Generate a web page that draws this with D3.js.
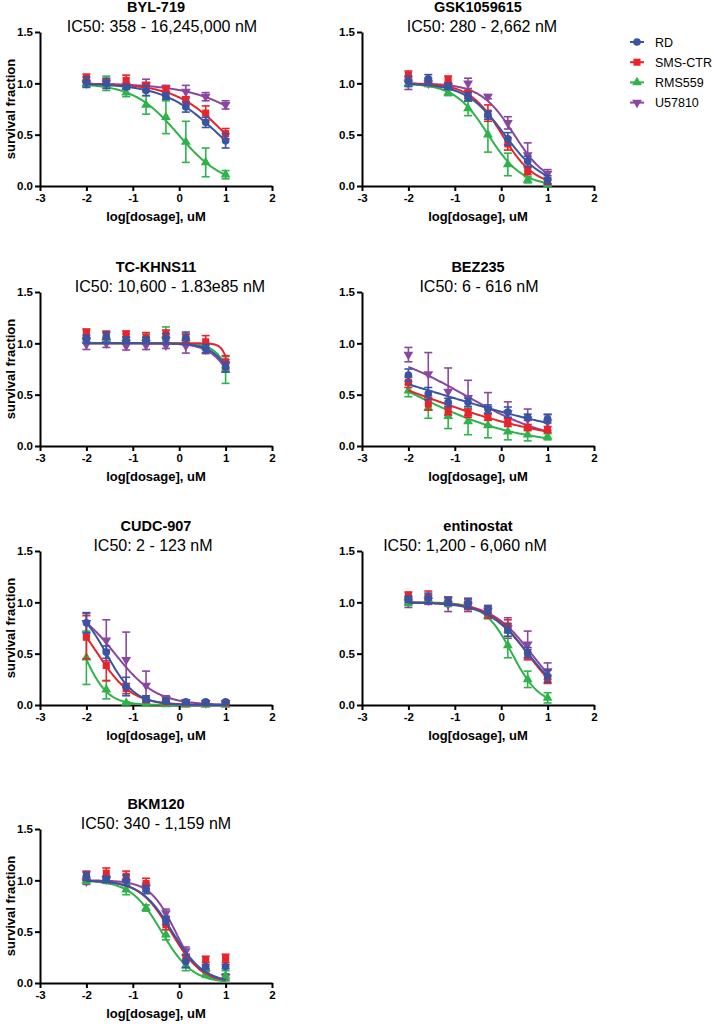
<!DOCTYPE html>
<html>
<head>
<meta charset="utf-8">
<title>Drug response curves</title>
<script src="https://d3js.org/d3.v7.min.js"></script>
<style>
  body { margin: 0; background: #fff; }
  svg { display: block; font-family: "Liberation Sans", Arial, sans-serif; }
</style>
</head>
<body>
<script>
// ---- data ----
var cellLines = ["RD", "SMS-CTR", "RMS559", "U57810"];
var logDose = [-2, -1.571, -1.143, -0.714, -0.286, 0.143, 0.571, 1];
var drugs = ["BYL-719", "GSK1059615", "TC-KHNS11", "BEZ235", "CUDC-907", "entinostat", "BKM120"];
var ic50Labels = ["IC50: 358 - 16,245,000 nM", "IC50: 280 - 2,662 nM", "IC50: 10,600 - 1.83e85 nM",
                  "IC50: 6 - 616 nM", "IC50: 2 - 123 nM", "IC50: 1,200 - 6,060 nM", "IC50: 340 - 1,159 nM"];
var xTicks = [-3, -2, -1, 0, 1, 2];
var yTicks = [0, 0.5, 1.0, 1.5];

// mean survival fraction, one row per cell line (RD, SMS-CTR, RMS559, U57810)
var meanBYL719 = [[1.01, 1.00, 0.965, 0.93, 0.875, 0.77, 0.62, 0.44],
                  [1.05, 1.01, 1.03, 0.97, 0.94, 0.83, 0.71, 0.51],
                  [1.00, 1.00, 0.91, 0.79, 0.67, 0.43, 0.23, 0.11],
                  [1.00, 1.00, 0.97, 0.98, 0.95, 0.92, 0.87, 0.79]];
var errBYL719 = [[0.05, 0.05, 0.02, 0.05, 0.03, 0.05, 0.05, 0.07],
                 [0.04, 0.03, 0.05, 0.04, 0.03, 0.04, 0.07, 0.05],
                 [0.03, 0.07, 0.04, 0.09, 0.16, 0.20, 0.14, 0.04],
                 [0.03, 0.03, 0.03, 0.06, 0.03, 0.06, 0.04, 0.04]];
var meanGSK = [[1.02, 1.045, 0.97, 0.87, 0.69, 0.46, 0.24, 0.06],
               [1.08, 1.02, 1.04, 0.89, 0.71, 0.41, 0.15, 0.04],
               [1.00, 1.00, 0.91, 0.755, 0.50, 0.21, 0.06, 0.01],
               [1.00, 1.00, 0.97, 1.00, 0.87, 0.615, 0.30, 0.12]];
var errGSK = [[0.05, 0.04, 0.03, 0.04, 0.04, 0.06, 0.05, 0.04],
              [0.04, 0.03, 0.03, 0.04, 0.08, 0.06, 0.04, 0.02],
              [0.03, 0.03, 0.03, 0.07, 0.17, 0.11, 0.03, 0.01],
              [0.06, 0.03, 0.03, 0.05, 0.02, 0.06, 0.12, 0.04]];
var meanTC = [[1.04, 1.06, 1.03, 1.03, 1.045, 1.05, 0.95, 0.77],
              [1.10, 1.08, 1.09, 1.055, 1.09, 1.05, 1.015, 0.82],
              [1.07, 1.06, 1.05, 1.05, 1.08, 1.05, 0.97, 0.74],
              [0.99, 1.00, 0.975, 0.98, 0.98, 0.975, 0.94, 0.79]];
var errTC = [[0.04, 0.05, 0.03, 0.03, 0.05, 0.06, 0.04, 0.05],
             [0.04, 0.04, 0.03, 0.05, 0.04, 0.04, 0.06, 0.06],
             [0.06, 0.04, 0.04, 0.04, 0.08, 0.04, 0.03, 0.13],
             [0.05, 0.04, 0.04, 0.04, 0.03, 0.07, 0.04, 0.05]];
var meanBEZ = [[0.69, 0.51, 0.425, 0.425, 0.36, 0.33, 0.28, 0.265],
               [0.62, 0.41, 0.345, 0.32, 0.28, 0.23, 0.18, 0.16],
               [0.54, 0.37, 0.29, 0.24, 0.20, 0.14, 0.11, 0.09],
               [0.89, 0.70, 0.53, 0.47, 0.36, 0.32, 0.26, 0.23]];
var errBEZ = [[0.06, 0.06, 0.04, 0.04, 0.04, 0.05, 0.03, 0.04],
              [0.05, 0.06, 0.04, 0.04, 0.03, 0.04, 0.03, 0.03],
              [0.06, 0.10, 0.12, 0.13, 0.12, 0.08, 0.06, 0.03],
              [0.07, 0.21, 0.23, 0.17, 0.16, 0.11, 0.10, 0.08]];
var meanCUDC = [[0.80, 0.515, 0.18, 0.06, 0.04, 0.03, 0.03, 0.03],
                [0.66, 0.385, 0.16, 0.05, 0.03, 0.02, 0.02, 0.02],
                [0.46, 0.15, 0.02, 0.01, 0.005, 0.0, 0.0, 0.0],
                [0.80, 0.63, 0.44, 0.19, 0.06, 0.03, 0.02, 0.02]];
var errCUDC = [[0.10, 0.06, 0.09, 0.03, 0.02, 0.01, 0.01, 0.01],
               [0.21, 0.15, 0.05, 0.02, 0.01, 0.01, 0.01, 0.01],
               [0.26, 0.09, 0.01, 0.01, 0.01, 0.0, 0.0, 0.0],
               [0.09, 0.20, 0.27, 0.14, 0.03, 0.02, 0.01, 0.01]];
var meanENT = [[1.03, 1.04, 1.01, 0.99, 0.93, 0.73, 0.51, 0.28],
               [1.07, 1.05, 1.01, 0.97, 0.895, 0.77, 0.49, 0.25],
               [1.00, 1.03, 1.00, 0.97, 0.87, 0.58, 0.25, 0.07],
               [1.00, 1.02, 0.98, 0.97, 0.92, 0.75, 0.59, 0.33]];
var errENT = [[0.03, 0.05, 0.04, 0.05, 0.04, 0.06, 0.05, 0.06],
              [0.03, 0.06, 0.04, 0.04, 0.05, 0.06, 0.05, 0.04],
              [0.03, 0.04, 0.04, 0.04, 0.03, 0.12, 0.08, 0.05],
              [0.05, 0.04, 0.07, 0.06, 0.04, 0.10, 0.13, 0.08]];
var meanBKM = [[1.04, 1.01, 1.00, 0.91, 0.61, 0.21, 0.16, 0.16],
               [1.05, 1.07, 1.04, 0.97, 0.57, 0.25, 0.23, 0.24],
               [1.00, 1.00, 0.91, 0.73, 0.47, 0.17, 0.085, 0.07],
               [0.99, 1.01, 0.98, 0.93, 0.68, 0.31, 0.10, 0.06]];
var errBKM = [[0.04, 0.03, 0.05, 0.04, 0.04, 0.06, 0.02, 0.02],
              [0.04, 0.05, 0.05, 0.05, 0.05, 0.03, 0.03, 0.04],
              [0.03, 0.03, 0.05, 0.03, 0.05, 0.05, 0.03, 0.05],
              [0.03, 0.03, 0.03, 0.04, 0.04, 0.04, 0.03, 0.03]];

// fitted curve: [logIC50 (uM), hill slope], top 1 / bottom 0
var fitBYL719 = [[0.857, 0.73], [1.01, 0.79], [-0.016, 0.9], [1.92, 0.6]];
var fitGSK = [[0.074, 1.04], [0.02, 1.25], [-0.28, 1.2], [0.28, 1.2]];
var fitTC = [[1.32, 1.7], [1.176, 4.7], [1.25, 2.2], [1.3, 1.6]];
var fitBEZ = [[-1.26, 0.238], [-1.755, 0.286], [-1.864, 0.381], [-0.80, 0.438]];
var fitCUDC = [[-1.57, 1.4], [-1.756, 1.18], [-2.06, 1.68], [-1.385, 0.975]];
var fitENT = [[0.58, 0.98], [0.57, 1.05], [0.235, 1.47], [0.65, 1.0]];
var fitBKM = [[-0.15, 1.27], [-0.18, 1.3], [-0.38, 1.31], [-0.08, 1.57]];

var allMeans = [meanBYL719, meanGSK, meanTC, meanBEZ, meanCUDC, meanENT, meanBKM];
var allErrs = [errBYL719, errGSK, errTC, errBEZ, errCUDC, errENT, errBKM];
var allFits = [fitBYL719, fitGSK, fitTC, fitBEZ, fitCUDC, fitENT, fitBKM];

// ---- layout / style ----
var colors = ["#3a54a4", "#e8232a", "#2eb34b", "#8a479f"];
var symbols = [d3.symbolCircle, d3.symbolSquare, d3.symbolTriangle, d3.symbolTriangle];
var symSize = [46, 50, 42, 42];
var colX = [40, 362], rowTop = [32, 292, 551, 829];
var plotW = 232, plotH = 154;
var subShift = [6, 4, 14, 1, -3, -13, 0];

var svg = d3.select("body").append("svg")
    .attr("width", 714).attr("height", 1024);

var logistic = function (x, f) {
    return 1 / (1 + Math.pow(10, (x - f[0]) * f[1]));
};

drugs.forEach(function (drug, p) {
    var ox = colX[p % 2], oy = rowTop[Math.floor(p / 2)];
    var g = svg.append("g").attr("transform", "translate(" + ox + "," + oy + ")");

    var x = d3.scaleLinear().domain([-3, 2]).range([0, plotW]);
    var y = d3.scaleLinear().domain([0, 1.5]).range([plotH, 0]);

    // axes
    var ya = g.append("g").call(d3.axisLeft(y).tickValues(yTicks)
        .tickFormat(d3.format(".1f")).tickSize(5).tickSizeOuter(0).tickPadding(2));
    var xa = g.append("g").attr("transform", "translate(0," + plotH + ")")
        .call(d3.axisBottom(x).tickValues(xTicks)
        .tickFormat(function (d) { return String(d); }).tickSize(5).tickSizeOuter(0).tickPadding(3));
    [ya, xa].forEach(function (a) {
        a.attr("font-family", null).attr("font-size", null);
        a.selectAll("path, line").attr("stroke", "#000").attr("stroke-width", 2);
        a.selectAll("text").attr("fill", "#000").style("font-size", "11.5px").style("font-weight", "bold");
    });

    // titles
    g.append("text").attr("x", plotW / 2).attr("y", -20).attr("text-anchor", "middle")
        .style("font-size", "14.5px").style("font-weight", "bold").text(drug);
    g.append("text").attr("x", plotW / 2 + subShift[p]).attr("y", 0).attr("text-anchor", "middle")
        .style("font-size", "16px").text(ic50Labels[p]);
    g.append("text").attr("x", plotW / 2).attr("y", plotH + 35).attr("text-anchor", "middle")
        .style("font-size", "13px").style("font-weight", "bold").text("log[dosage], uM");
    if (p % 2 === 0) {
        g.append("text").attr("transform", "translate(-25.5," + (plotH / 2) + ") rotate(-90)")
            .attr("text-anchor", "middle").style("font-size", "13px").style("font-weight", "bold")
            .text("survival fraction");
    }

    var line = d3.line().x(function (d) { return x(d[0]); }).y(function (d) { return y(d[1]); });
    var xs = d3.range(-2, 1.0001, 0.02);

    // RD drawn last (on top)
    [3, 2, 1, 0].forEach(function (s) {
        var col = colors[s];
        var fit = allFits[p][s];
        g.append("path")
            .attr("d", line(xs.map(function (v) { return [v, logistic(v, fit)]; })))
            .attr("fill", "none").attr("stroke", col).attr("stroke-width", 2);

        var pts = logDose.map(function (d, i) {
            return { x: d, m: allMeans[p][s][i], e: allErrs[p][s][i] };
        });
        var eg = g.append("g").attr("stroke", col).attr("stroke-width", 1.6);
        pts.forEach(function (d) {
            if (d.e <= 0) return;
            var lo = Math.max(0, d.m - d.e), hi = d.m + d.e;
            eg.append("line").attr("x1", x(d.x)).attr("x2", x(d.x)).attr("y1", y(lo)).attr("y2", y(hi));
            eg.append("line").attr("x1", x(d.x) - 4).attr("x2", x(d.x) + 4).attr("y1", y(hi)).attr("y2", y(hi));
            eg.append("line").attr("x1", x(d.x) - 4).attr("x2", x(d.x) + 4).attr("y1", y(lo)).attr("y2", y(lo));
        });
        g.selectAll(null).data(pts).enter().append("path")
            .attr("d", d3.symbol().type(symbols[s]).size(symSize[s]))
            .attr("transform", function (d) {
                return "translate(" + x(d.x) + "," + y(d.m) + ")" + (s === 3 ? " rotate(180)" : "");
            })
            .attr("fill", col);
    });
});

// legend
var lg = svg.append("g").attr("transform", "translate(630,42)");
cellLines.forEach(function (name, s) {
    var row = lg.append("g").attr("transform", "translate(0," + (s * 20.2) + ")");
    row.append("line").attr("x1", 0).attr("x2", 14).attr("stroke", colors[s]).attr("stroke-width", 2);
    row.append("path").attr("d", d3.symbol().type(symbols[s]).size(symSize[s]))
        .attr("transform", "translate(7,0)" + (s === 3 ? " rotate(180)" : "")).attr("fill", colors[s]);
    row.append("text").attr("x", 25).attr("dy", "0.36em").style("font-size", "12.5px").text(name);
});
</script>
</body>
</html>
